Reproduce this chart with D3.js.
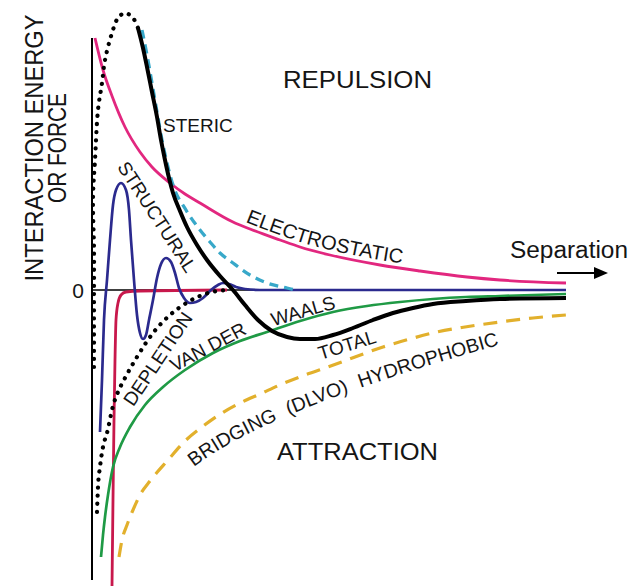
<!DOCTYPE html>
<html lang="en">
<head>
<meta charset="UTF-8">
<title>Interaction energy vs separation</title>
<script src="https://cdnjs.cloudflare.com/ajax/libs/d3/7.8.5/d3.min.js"></script>
<style>
  body { margin: 0; background: #fff; }
  svg { display: block; font-family: "Liberation Sans", Arial, Helvetica, sans-serif; }
  .curve { fill: none; stroke-linejoin: round; }
  .lbl { font-size: 19px; fill: #151515; }
  .big { font-size: 24px; fill: #151515; }
</style>
</head>
<body>
<svg width="630" height="586"></svg>
<script>
// [separation, energy] in arbitrary units; energy > 0 is repulsion
var electrostatic = [[3,252],[11,220],[20,194],[33,163],[48,138],[60,123],[78,107],[93,96],[108,87],[141,68],[158,61],[188,50],[208,43],[238,35],[288,25],[328,19],[375,13],[408,10],[474,7]];
var steric = [[50,260],[55,235],[60,207],[65,178],[70,150],[75,127],[81,105],[94,80],[108,60],[118,48],[128,37],[141,27],[158,15],[175,7],[195,2],[203,0]];
var structural = [[8,-142],[10,-90],[12,-30],[15,10],[18,50],[21,85],[24,100],[29,107],[34,100],[37,80],[39,50],[42,10],[45,-25],[48,-43],[51,-49],[54,-45],[57,-30],[61,-10],[65,12],[69,26],[74,32],[79,28],[83,17],[87,2],[92,-8],[98,-13],[104,-12],[111,-8],[119,0],[126,5],[131,7],[137,6],[144,3],[153,1],[168,0],[474,0]];
var depletionHigh = [[2,-77],[2,-40],[2,0],[2,40],[1,93],[3,130],[6,180],[10,207],[13,230],[20,257],[26,272],[33,277],[41,272],[46,262]];
var depletionLow = [[5,-222],[6,-197],[8,-177],[11,-157],[15,-143],[21,-116],[26,-102],[33,-88],[45,-67],[61,-43],[78,-25],[96,-12],[116,-3],[135,0]];
var hydration = [[20,-296],[21,-210],[22,-130],[23,-70],[24,-30],[26,-13],[29,-5],[34,-2],[48,-1],[135,0]];
var vanDerWaals = [[9,-267],[11,-245],[13,-227],[16,-205],[21,-177],[28,-157],[38,-137],[53,-115],[71,-97],[93,-80],[121,-63],[148,-51],[175,-42],[208,-31],[241,-22],[275,-16],[308,-12],[341,-9],[374,-7],[408,-6],[474,-4]];
var bridging = [[27,-267],[30,-250],[35,-235],[41,-220],[48,-205],[58,-191],[76,-170],[93,-151],[110,-137],[130,-123],[148,-113],[168,-104],[190,-94],[213,-85],[236,-77],[263,-67],[291,-57],[318,-49],[345,-42],[373,-37],[408,-32],[441,-28],[474,-25]];
var total = [[46,262],[51,242],[55,223],[60,198],[65,173],[69,150],[73,130],[77,112],[81,97],[88,79],[95,63],[105,45],[115,30],[128,14],[141,0],[153,-15],[166,-30],[180,-41],[195,-47],[208,-49],[223,-49],[241,-45],[261,-38],[281,-30],[301,-23],[321,-18],[341,-14],[374,-11],[408,-9],[474,-8]];
var bridgingWords = ["BRIDGING", "(DLVO)", "HYDROPHOBIC"];
var axisTop = 252, axisBottom = -290;

var svg = d3.select("svg");
var x = d3.scaleLinear().domain([0, 474]).range([92, 566]);
var y = d3.scaleLinear().domain([-296, 290]).range([586, 0]);

var line = d3.line().x(function(d) { return x(d[0]); }).y(function(d) { return y(d[1]); }).curve(d3.curveMonotoneX);
var lineCR = d3.line().x(function(d) { return x(d[0]); }).y(function(d) { return y(d[1]); }).curve(d3.curveCatmullRom.alpha(0.5));

// axes
svg.append("line").attr("x1", x(0)).attr("x2", x(474)).attr("y1", y(0)).attr("y2", y(0))
  .attr("stroke", "#000").attr("stroke-width", 1.6);
svg.append("line").attr("x1", x(0)).attr("x2", x(0)).attr("y1", y(axisTop)).attr("y2", y(axisBottom))
  .attr("stroke", "#000").attr("stroke-width", 2);

function curve(data, color, w, dash, gen) {
  var p = svg.append("path").datum(data).attr("class", "curve")
    .attr("d", gen || line).attr("stroke", color).attr("stroke-width", w);
  if (dash) p.attr("stroke-dasharray", dash);
  return p;
}
curve(hydration, "#c8184c", 2.8);
curve(structural, "#2b2a8e", 2.7);
curve(vanDerWaals, "#1f9a45", 2.7);
curve(bridging, "#e2b02c", 3.2, "14 9");
curve(electrostatic, "#e2277f", 2.8);
curve(steric, "#38a8c9", 3.3, "9 6");
curve(depletionHigh, "#000", 4.2, "0.1 8", lineCR).attr("stroke-linecap", "round");
curve(depletionLow, "#000", 4.2, "0.1 8").attr("stroke-linecap", "round");
curve(total, "#000", 4);

// labels
svg.append("text").attr("class", "lbl").attr("x", x(0) - 14).attr("y", y(0) + 8)
  .attr("text-anchor", "middle").style("font-size", "21px").text("0");

function big(t, px, py, len, size) {
  svg.append("text").attr("class", "big").attr("x", px).attr("y", py)
    .attr("textLength", len).attr("lengthAdjust", "spacingAndGlyphs")
    .style("font-size", size + "px").text(t);
}
big("REPULSION", 283, 88, 149, 24);
big("ATTRACTION", 277, 460, 161, 24);
big("Separation", 510, 258, 118, 23);

[["INTERACTION ENERGY", 43, 267], ["OR FORCE", 66, 110]].forEach(function(r) {
  svg.append("text").attr("class", "big")
    .attr("transform", "translate(" + r[1] + ",148) rotate(-90)")
    .attr("text-anchor", "middle").attr("textLength", r[2]).attr("lengthAdjust", "spacingAndGlyphs")
    .style("font-size", "25px").text(r[0]);
});

// arrow
svg.append("line").attr("x1", 557).attr("x2", 596).attr("y1", 273).attr("y2", 273)
  .attr("stroke", "#000").attr("stroke-width", 2);
svg.append("path").attr("d", "M594,267 L608,273 L594,279 Z").attr("fill", "#000");

svg.append("text").attr("class", "lbl").attr("x", 163).attr("y", 132).text("STERIC");

[["STRUCTURAL", 157, 217, 57], ["DEPLETION", 158, 359, -56], ["VAN DER", 208, 347, -28],
 ["WAALS", 303, 311, -16], ["TOTAL", 347, 345, -17]].forEach(function(r) {
  svg.append("text").attr("class", "lbl")
    .attr("transform", "translate(" + r[1] + "," + r[2] + ") rotate(" + r[3] + ")")
    .attr("text-anchor", "middle").attr("dominant-baseline", "central").text(r[0]);
});

// curved labels
var defs = svg.append("defs");
var elecPath = defs.append("path").attr("id", "elecPath")
  .attr("d", d3.line().x(function(d) { return x(d[0]); }).y(function(d) { return y(d[1]) - 5; })
    .curve(d3.curveMonotoneX)(electrostatic));
var node = elecPath.node(), L = node.getTotalLength(), start = 0;
for (var s = 0; s < L; s += 1) { if (node.getPointAtLength(s).x >= 245) { start = s; break; } }
svg.append("text").attr("class", "lbl").style("font-size", "20px")
  .append("textPath").attr("href", "#elecPath").attr("startOffset", start).text("ELECTROSTATIC");

// one text per word so the boxes stay tight
defs.append("path").attr("id", "bridgePath").attr("d", "M194,467 Q270,408 506,343");
var off = 0;
bridgingWords.forEach(function(w) {
  var t = svg.append("text").attr("class", "lbl").style("font-size", "19.5px");
  t.append("textPath").attr("href", "#bridgePath").attr("startOffset", off).text(w);
  off += t.node().getComputedTextLength() + 12;
});
</script>
</body>
</html>
